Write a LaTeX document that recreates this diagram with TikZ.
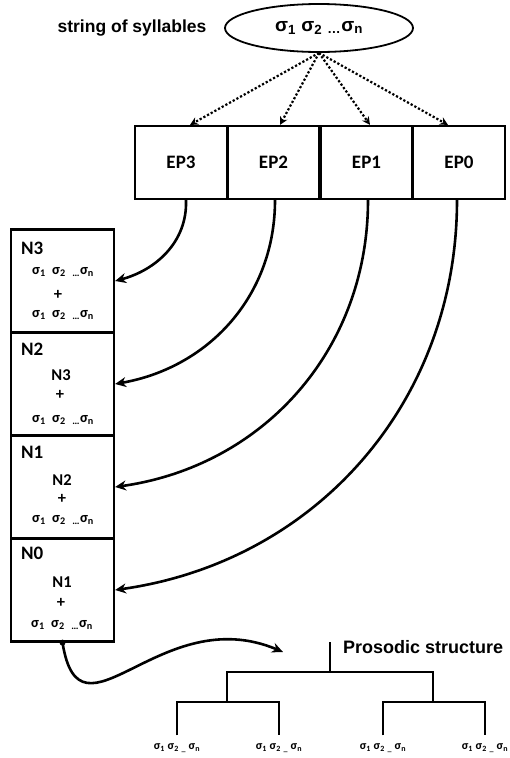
\documentclass[tikz,border=0pt]{standalone}
\usepackage{fontspec}
\setmainfont{Carlito}
\newfontfamily\arialfont{Liberation Sans}
\usetikzlibrary{shapes.geometric,arrows.meta}

% syllable string
\newcommand{\sylls}{σ\textsubscript{1}\ \ σ\textsubscript{2}\ \ \textsubscript{…}σ\textsubscript{n}}
\newcommand{\leafsylls}{σ\textsubscript{1} σ\textsubscript{2} \textsubscript{\_} σ\textsubscript{n}}

\begin{document}
\begin{tikzpicture}[x=1pt,y=-1pt,
	epbox/.style={draw, line width=2.2pt, minimum width=92pt, minimum height=73pt, inner sep=0pt, font=\fontsize{19}{20}\selectfont\bfseries},
	nbox/.style={draw, line width=2.2pt, minimum width=103pt, minimum height=103pt, inner sep=0pt},
	nlabel/.style={anchor=west, inner sep=0pt, font=\fontsize{19}{20}\selectfont\bfseries},
	ninner/.style={inner sep=0pt, font=\fontsize{16.5}{18}\selectfont\bfseries},
	syl/.style={inner sep=0pt, font=\fontsize{14.5}{16}\selectfont\bfseries},
	leaf/.style={inner sep=0pt, font=\fontsize{12}{13}\selectfont\bfseries},
	title/.style={inner sep=0pt, font=\arialfont\fontsize{18}{20}\selectfont\bfseries},
	feed/.style={dotted, line width=2.2pt, -{Stealth[length=8pt,width=8pt]}},
	curvearrow/.style={line width=2.6pt, -{Stealth[length=11pt,width=10pt]}},
	branch/.style={line width=2.2pt}]
	\useasboundingbox (0,0) rectangle (509,758);

	\node[title, font=\arialfont\fontsize{17.5}{20}\selectfont\bfseries] (strlabel) at (132,28) {string of syllables};
	\node[draw, ellipse, line width=1.8pt, minimum width=188pt, minimum height=48pt, inner sep=0pt,
		font=\arialfont\fontsize{19}{20}\selectfont\bfseries] (str) at (319,28)
		{σ\textsubscript{1} σ\textsubscript{2} \textsubscript{…}σ\textsubscript{n}};

	\node[epbox] (ep3) at (181,162.5) {EP3};
	\node[epbox] (ep2) at (273.5,162.5) {EP2};
	\node[epbox] (ep1) at (366.5,162.5) {EP1};
	\node[epbox] (ep0) at (459,162.5) {EP0};

	\draw[feed] (str.south) -- ([xshift=9pt]ep3.north);
	\draw[feed] (str.south) -- ([xshift=6.5pt]ep2.north);
	\draw[feed] (str.south) -- ([xshift=3.5pt]ep1.north);
	\draw[feed] (str.south) -- ([xshift=-11pt]ep0.north);

	\node[nbox] (nbox3) at (62.5,281) {};
	\node[nbox] (nbox2) at (62.5,384) {};
	\node[nbox] (nbox1) at (62.5,487) {};
	\node[nbox] (nbox0) at (62.5,590) {};

	\node[nlabel] (n3lab) at (21,248) {N3};
	\node[syl] (n3a) at (63,272) {\sylls};
	\node[ninner] (n3p) at (58,295) {+};
	\node[syl] (n3b) at (63,315) {\sylls};

	\node[nlabel] (n2lab) at (21,349) {N2};
	\node[ninner] (n2a) at (61,375) {N3};
	\node[ninner] (n2p) at (60,395) {+};
	\node[syl] (n2b) at (63,420) {\sylls};

	\node[nlabel] (n1lab) at (21,452) {N1};
	\node[ninner] (n1a) at (62,480) {N2};
	\node[ninner] (n1p) at (62,499) {+};
	\node[syl] (n1b) at (63,520) {\sylls};

	\node[nlabel] (n0lab) at (21,553) {N0};
	\node[ninner] (n0a) at (62,582) {N1};
	\node[ninner] (n0p) at (61,603) {+};
	\node[syl] (n0b) at (62,625) {\sylls};

	\draw[curvearrow] ([xshift=5pt]ep3.south) to[out=-88,in=15] (nbox3.east);
	\draw[curvearrow] ([xshift=1.5pt]ep2.south) to[out=-90,in=10] (nbox2.east);
	\draw[curvearrow] ([xshift=1.5pt]ep1.south) to[out=-90,in=8] (nbox1.east);
	\draw[curvearrow] ([xshift=-2pt]ep0.south) to[out=-90,in=8] (nbox0.east);

	% towards the prosodic tree
	\coordinate (proend) at (283,652);
	\fill (nbox0.south) circle (3pt);
	\draw[curvearrow] (nbox0.south) .. controls (80,752) and (160,600) .. (proend);

	\node[title, anchor=west] (pros) at (343,647) {Prosodic structure};
	\coordinate (ps) at (330,642);
	\coordinate (mid) at (330,672);
	\coordinate (bl) at (227,702);
	\coordinate (br) at (433,702);

	\node[leaf] (lf1) at (177,748) {\leafsylls};
	\node[leaf] (lf2) at (279,748) {\leafsylls};
	\node[leaf] (lf3) at (383,748) {\leafsylls};
	\node[leaf] (lf4) at (485,748) {\leafsylls};

	\draw[branch] (ps) -- (mid);
	\draw[branch] (bl) |- (mid) -| (br);
	\draw[branch] ([yshift=8pt]lf1.north) |- (bl) -| ([yshift=8pt]lf2.north);
	\draw[branch] ([yshift=8pt]lf3.north) |- (br) -| ([yshift=8pt]lf4.north);
\end{tikzpicture}
\end{document}
